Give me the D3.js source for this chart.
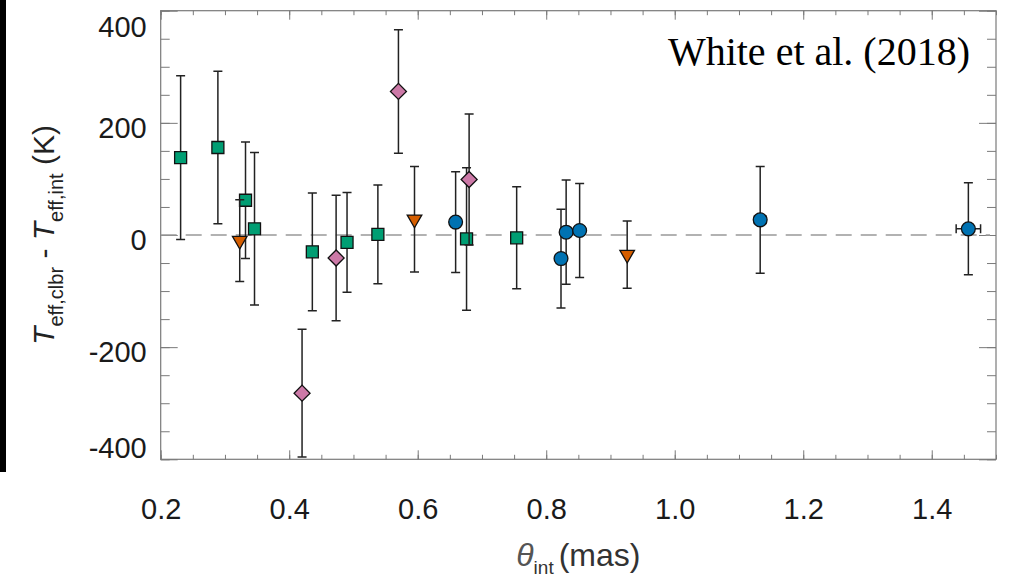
<!DOCTYPE html>
<html>
<head>
<meta charset="utf-8">
<script src="https://cdn.jsdelivr.net/npm/d3@7"></script>
<style>
  body { margin: 0; background: #fff; }
  svg { display: block; }
</style>
</head>
<body>
<div id="chart"></div>
<script>
// values (theta_int in mas, dT in K)
const squareX   = [0.231, 0.289, 0.332, 0.346, 0.436, 0.490, 0.538, 0.676, 0.754];
const squareY   = [138, 156, 62, 11, -30, -13, 1, -7, -5];
const squareErr = [146, 136, 104, 136, 105, 89, 88, 127, 91];

const triX   = [0.323, 0.595, 0.926];
const triY   = [-10, 28, -35];
const triErr = [73, 94, 60];

const diamondX   = [0.420, 0.473, 0.570, 0.680];
const diamondY   = [-282, -41, 256, 99];
const diamondErr = [114, 112, 110, 117];

const circleX    = [0.659, 0.823, 0.831, 0.852, 1.133, 1.457];
const circleY    = [23, -42, 5, 8, 27, 11];
const circleErr  = [90, 88, 93, 84, 95, 82];
const circleXErr = [0, 0.006, 0.006, 0.008, 0.009, 0.019];

const xTicks = [0.2, 0.4, 0.6, 0.8, 1.0, 1.2, 1.4];
const yTicks = [-400, -200, 0, 200, 400];

const width = 1012, height = 582;
const axisColor = "#7a7a7a";
const barColor = "#222";

const x = d3.scaleLinear([0.2, 1.5], [160.7, 996]);
const y = d3.scaleLinear([-400, 400], [459.3, 10.7]);

const svg = d3.select("#chart")
  .append("svg")
  .attr("width", width)
  .attr("height", height)
  .attr("viewBox", [0, 0, width, height]);

// the black edge left over from the page crop
svg.append("rect")
  .attr("x", 0).attr("y", 0)
  .attr("width", 6).attr("height", 472)
  .attr("fill", "#000");

const xMinor = d3.range(4, 31).map(i => i * 0.05);
const yMinor = d3.range(-8, 9).map(i => i * 50);

const clean = g => {
  g.select(".domain").remove();
  g.selectAll(".tick line").attr("stroke", axisColor).attr("stroke-width", 1);
};

// frame
svg.append("rect")
  .attr("x", x.range()[0]).attr("y", y.range()[1])
  .attr("width", x.range()[1] - x.range()[0])
  .attr("height", y.range()[0] - y.range()[1])
  .attr("fill", "none")
  .attr("stroke", axisColor)
  .attr("stroke-width", 1.2);

// bottom
svg.append("g")
  .attr("transform", `translate(0,${y(-400)})`)
  .call(d3.axisBottom(x).tickValues(xMinor).tickSize(-4.5).tickFormat(""))
  .call(clean);
svg.append("g")
  .attr("transform", `translate(0,${y(-400)})`)
  .call(d3.axisBottom(x).tickValues(xTicks).tickSize(-9).tickFormat(d3.format(".1f")))
  .call(clean)
  .call(g => g.selectAll("text")
    .attr("y", 60).attr("dy", 0)
    .attr("fill", "#1a1a1a")
    .attr("font-family", "'Liberation Sans', Arial, sans-serif")
    .attr("font-size", 29));

// top
svg.append("g")
  .attr("transform", `translate(0,${y(400)})`)
  .call(d3.axisTop(x).tickValues(xMinor).tickSize(-4.5).tickFormat(""))
  .call(clean);
svg.append("g")
  .attr("transform", `translate(0,${y(400)})`)
  .call(d3.axisTop(x).tickValues(xTicks).tickSize(-9).tickFormat(""))
  .call(clean);

// left
svg.append("g")
  .attr("transform", `translate(${x(0.2)},0)`)
  .call(d3.axisLeft(y).tickValues(yMinor).tickSize(-9).tickFormat(""))
  .call(clean);
svg.append("g")
  .attr("transform", `translate(${x(0.2)},0)`)
  .call(d3.axisLeft(y).tickValues(yTicks).tickSize(-17).tickFormat(d => String(d)))
  .call(clean)
  .call(g => g.selectAll("text")
    .attr("x", -14)
    .attr("y", d => d === 400 ? 17 : d === -400 ? -11 : 5)
    .attr("fill", "#1a1a1a")
    .attr("font-family", "'Liberation Sans', Arial, sans-serif")
    .attr("font-size", 29));

// right
svg.append("g")
  .attr("transform", `translate(${x(1.5)},0)`)
  .call(d3.axisRight(y).tickValues(yMinor).tickSize(-9).tickFormat(""))
  .call(clean);
svg.append("g")
  .attr("transform", `translate(${x(1.5)},0)`)
  .call(d3.axisRight(y).tickValues(yTicks).tickSize(-17).tickFormat(""))
  .call(clean);

// zero line
svg.append("line")
  .attr("x1", x.range()[0]).attr("x2", x.range()[1] - 6)
  .attr("y1", y(0)).attr("y2", y(0))
  .attr("stroke", "#999")
  .attr("stroke-width", 1.6)
  .attr("stroke-dasharray", "16,9");

const series = [
  {xs: squareX, ys: squareY, err: squareErr, xerr: null, color: "#009E73",
   symbol: d3.symbolSquare, size: 144, rotate: 0},
  {xs: diamondX, ys: diamondY, err: diamondErr, xerr: null, color: "#CC79A7",
   symbol: d3.symbolSquare, size: 128, rotate: 45},
  {xs: triX, ys: triY, err: triErr, xerr: null, color: "#D55E00",
   symbol: d3.symbolTriangle, size: 92, rotate: 180},
  {xs: circleX, ys: circleY, err: circleErr, xerr: circleXErr, color: "#0072B2",
   symbol: d3.symbolCircle, size: 150, rotate: 0}
];

const capW = 4.5;

series.forEach(s => {
  const pts = s.xs.map((v, i) => ({x: v, y: s.ys[i], e: s.err[i], xe: s.xerr ? s.xerr[i] : 0}));
  const bars = svg.append("g")
    .attr("stroke", barColor)
    .attr("stroke-width", 1.5)
    .attr("fill", "none");

  bars.selectAll("path.v")
    .data(pts)
    .join("path")
    .attr("class", "v")
    .attr("d", d => {
      const cx = x(d.x), y0 = y(d.y - d.e), y1 = y(d.y + d.e);
      return `M${cx},${y0}V${y1}M${cx - capW},${y1}H${cx + capW}M${cx - capW},${y0}H${cx + capW}`;
    });

  bars.selectAll("path.h")
    .data(pts.filter(d => d.xe > 0))
    .join("path")
    .attr("class", "h")
    .attr("d", d => {
      const cy = y(d.y), x0 = x(d.x - d.xe), x1 = x(d.x + d.xe);
      return `M${x0},${cy}H${x1}M${x0},${cy - capW}V${cy + capW}M${x1},${cy - capW}V${cy + capW}`;
    });

  svg.append("g")
    .selectAll("path")
    .data(pts)
    .join("path")
    .attr("transform", d => `translate(${x(d.x)},${y(d.y)}) rotate(${s.rotate})`)
    .attr("d", d3.symbol(s.symbol, s.size))
    .attr("fill", s.color)
    .attr("stroke", "#111")
    .attr("stroke-width", 1.3);
});

// axis titles
const yTitle = svg.append("text")
  .attr("transform", `translate(54,${y(0)}) rotate(-90)`)
  .attr("text-anchor", "middle")
  .attr("fill", "#222")
  .attr("font-family", "'Liberation Sans', Arial, sans-serif")
  .attr("font-size", 30);
yTitle.append("tspan").attr("font-style", "italic").text("T");
yTitle.append("tspan").attr("font-size", 20).attr("dy", 9).text("eff,clbr");
yTitle.append("tspan").attr("dy", -9).text(" - ");
yTitle.append("tspan").attr("font-style", "italic").text("T");
yTitle.append("tspan").attr("font-size", 20).attr("dy", 9).text("eff,int");
yTitle.append("tspan").attr("dy", -9).text(" (K)");

const xTitle = svg.append("text")
  .attr("x", (x.range()[0] + x.range()[1]) / 2)
  .attr("y", 566)
  .attr("text-anchor", "middle")
  .attr("fill", "#333")
  .attr("font-family", "'Liberation Sans', Arial, sans-serif")
  .attr("font-size", 32);
xTitle.append("tspan").attr("font-style", "italic").attr("fill", "#555").text("θ");
xTitle.append("tspan").attr("font-size", 19).attr("dy", 8).text("int");
xTitle.append("tspan").attr("dy", -8).attr("dx", 5).text("(mas)");

// reference label
svg.append("text")
  .attr("x", 970)
  .attr("y", 65)
  .attr("text-anchor", "end")
  .attr("fill", "#000")
  .attr("font-family", "'Liberation Serif', 'Times New Roman', serif")
  .attr("font-size", 40)
  .text("White et al. (2018)");
</script>
</body>
</html>
